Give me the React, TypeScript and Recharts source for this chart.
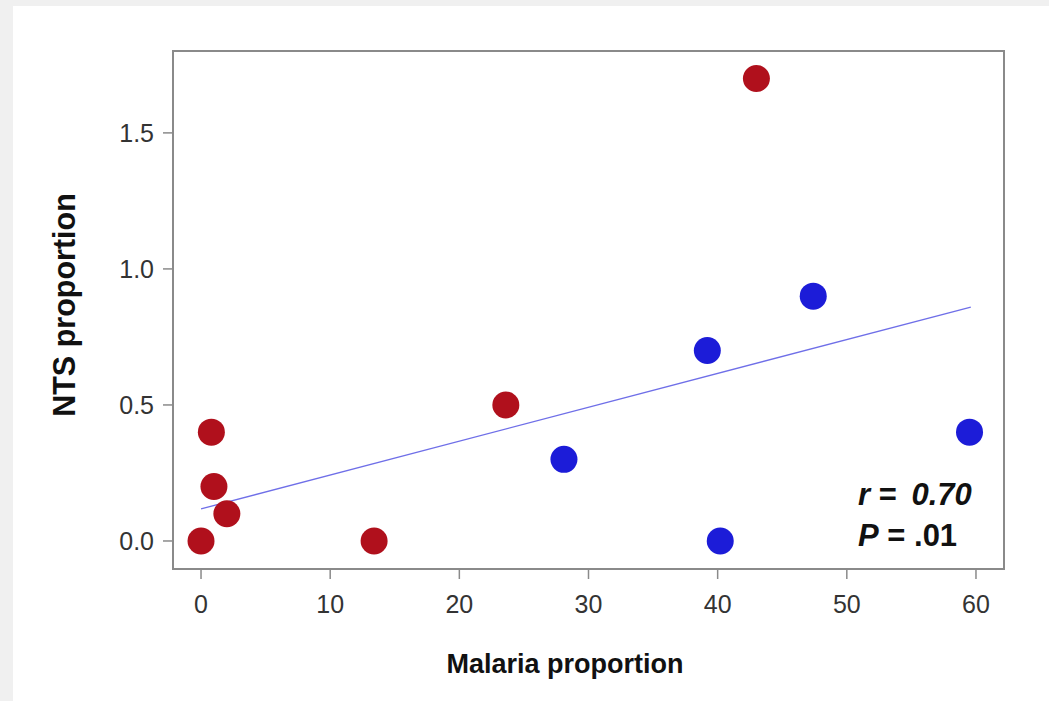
import React from "react";
import {
  ScatterChart,
  Scatter,
  XAxis,
  YAxis,
  ReferenceLine,
  ReferenceArea,
} from "recharts";

// ---- data ----
const redX = [0, 0.8, 1.0, 2.0, 13.4, 23.6, 43.0];
const redY = [0, 0.4, 0.2, 0.1, 0, 0.5, 1.7];
const blueX = [28.1, 39.2, 47.4, 59.5, 40.2];
const blueY = [0.3, 0.7, 0.9, 0.4, 0];
const fitLine = [
  { x: 0, y: 0.118 },
  { x: 59.6, y: 0.86 },
];
const xTicks = [0, 10, 20, 30, 40, 50, 60];
const yTicks = [0, 0.5, 1.0, 1.5];
const xDomain = [-2.17, 62.17];
const yDomain = [-0.103, 1.801];
const xLabel = "Malaria proportion";
const yLabel = "NTS proportion";

const redData = redX.map((x, i) => ({ x, y: redY[i] }));
const blueData = blueX.map((x, i) => ({ x, y: blueY[i] }));

const FONT = 'Arial, "Liberation Sans", Helvetica, sans-serif';
const RED = "#b0101c";
const BLUE = "#1c1cd8";
const FRAME = "#8a8a8a";

const dot = (color: string) => (props: any) =>
  <circle cx={props.cx} cy={props.cy} r={13.5} fill={color} />;

export default function App() {
  return (
    <div
      style={{
        position: "absolute",
        left: 0,
        top: 0,
        width: 1049,
        height: 701,
        background: "#f0f0f0",
      }}
    >
      <div
        style={{
          position: "absolute",
          left: 13,
          top: 6,
          width: 1036,
          height: 695,
          background: "#ffffff",
        }}
      />
      <div style={{ position: "absolute", left: 0, top: 0 }}>
        <ScatterChart
          width={1049}
          height={701}
          margin={{ top: 51, right: 45, bottom: 92, left: 113 }}
          style={{ fontFamily: FONT }}
        >
          <XAxis
            type="number"
            dataKey="x"
            domain={xDomain}
            allowDataOverflow
            ticks={xTicks}
            height={40}
            tickSize={10}
            tickMargin={16}
            axisLine={{ stroke: FRAME, strokeWidth: 2 }}
            tickLine={{ stroke: FRAME, strokeWidth: 1.5 }}
            tick={{ fill: "#333", fontSize: 25, fontFamily: FONT }}
          />
          <YAxis
            type="number"
            dataKey="y"
            domain={yDomain}
            allowDataOverflow
            ticks={yTicks}
            width={60}
            tickSize={10}
            tickMargin={9}
            tickFormatter={(v: number) => v.toFixed(1)}
            axisLine={{ stroke: FRAME, strokeWidth: 2 }}
            tickLine={{ stroke: FRAME, strokeWidth: 1.5 }}
            tick={{ fill: "#333", fontSize: 25, fontFamily: FONT }}
          />
          <ReferenceArea
            x1={xDomain[0]}
            x2={xDomain[1]}
            y1={yDomain[0]}
            y2={yDomain[1]}
            fill="none"
            fillOpacity={0}
            stroke={FRAME}
            strokeWidth={2}
            ifOverflow="visible"
          />
          <ReferenceLine
            segment={fitLine}
            stroke="#6f6fe8"
            strokeWidth={1.3}
            ifOverflow="visible"
          />
          <Scatter
            data={redData}
            fill={RED}
            shape={dot(RED)}
            isAnimationActive={false}
          />
          <Scatter
            data={blueData}
            fill={BLUE}
            shape={dot(BLUE)}
            isAnimationActive={false}
          />
          <text
            x={565}
            y={673}
            textAnchor="middle"
            fontSize={27}
            fontWeight="bold"
            fill="#111"
            fontFamily={FONT}
          >
            {xLabel}
          </text>
          <text
            x={0}
            y={0}
            transform="translate(75,305) rotate(-90)"
            textAnchor="middle"
            fontSize={30.5}
            fontWeight="bold"
            fill="#111"
            fontFamily={FONT}
          >
            {yLabel}
          </text>
          <text
            x={858}
            y={505}
            fontSize={31}
            fontWeight="bold"
            fill="#111"
            fontFamily={FONT}
          >
            <tspan fontStyle="italic">r</tspan>
            <tspan> = </tspan>
            <tspan fontStyle="italic" dx={6}>0.70</tspan>
          </text>
          <text
            x={858}
            y={546}
            fontSize={31}
            fontWeight="bold"
            fill="#111"
            fontFamily={FONT}
          >
            <tspan fontStyle="italic">P</tspan>
            <tspan> = .01</tspan>
          </text>
        </ScatterChart>
      </div>
    </div>
  );
}
